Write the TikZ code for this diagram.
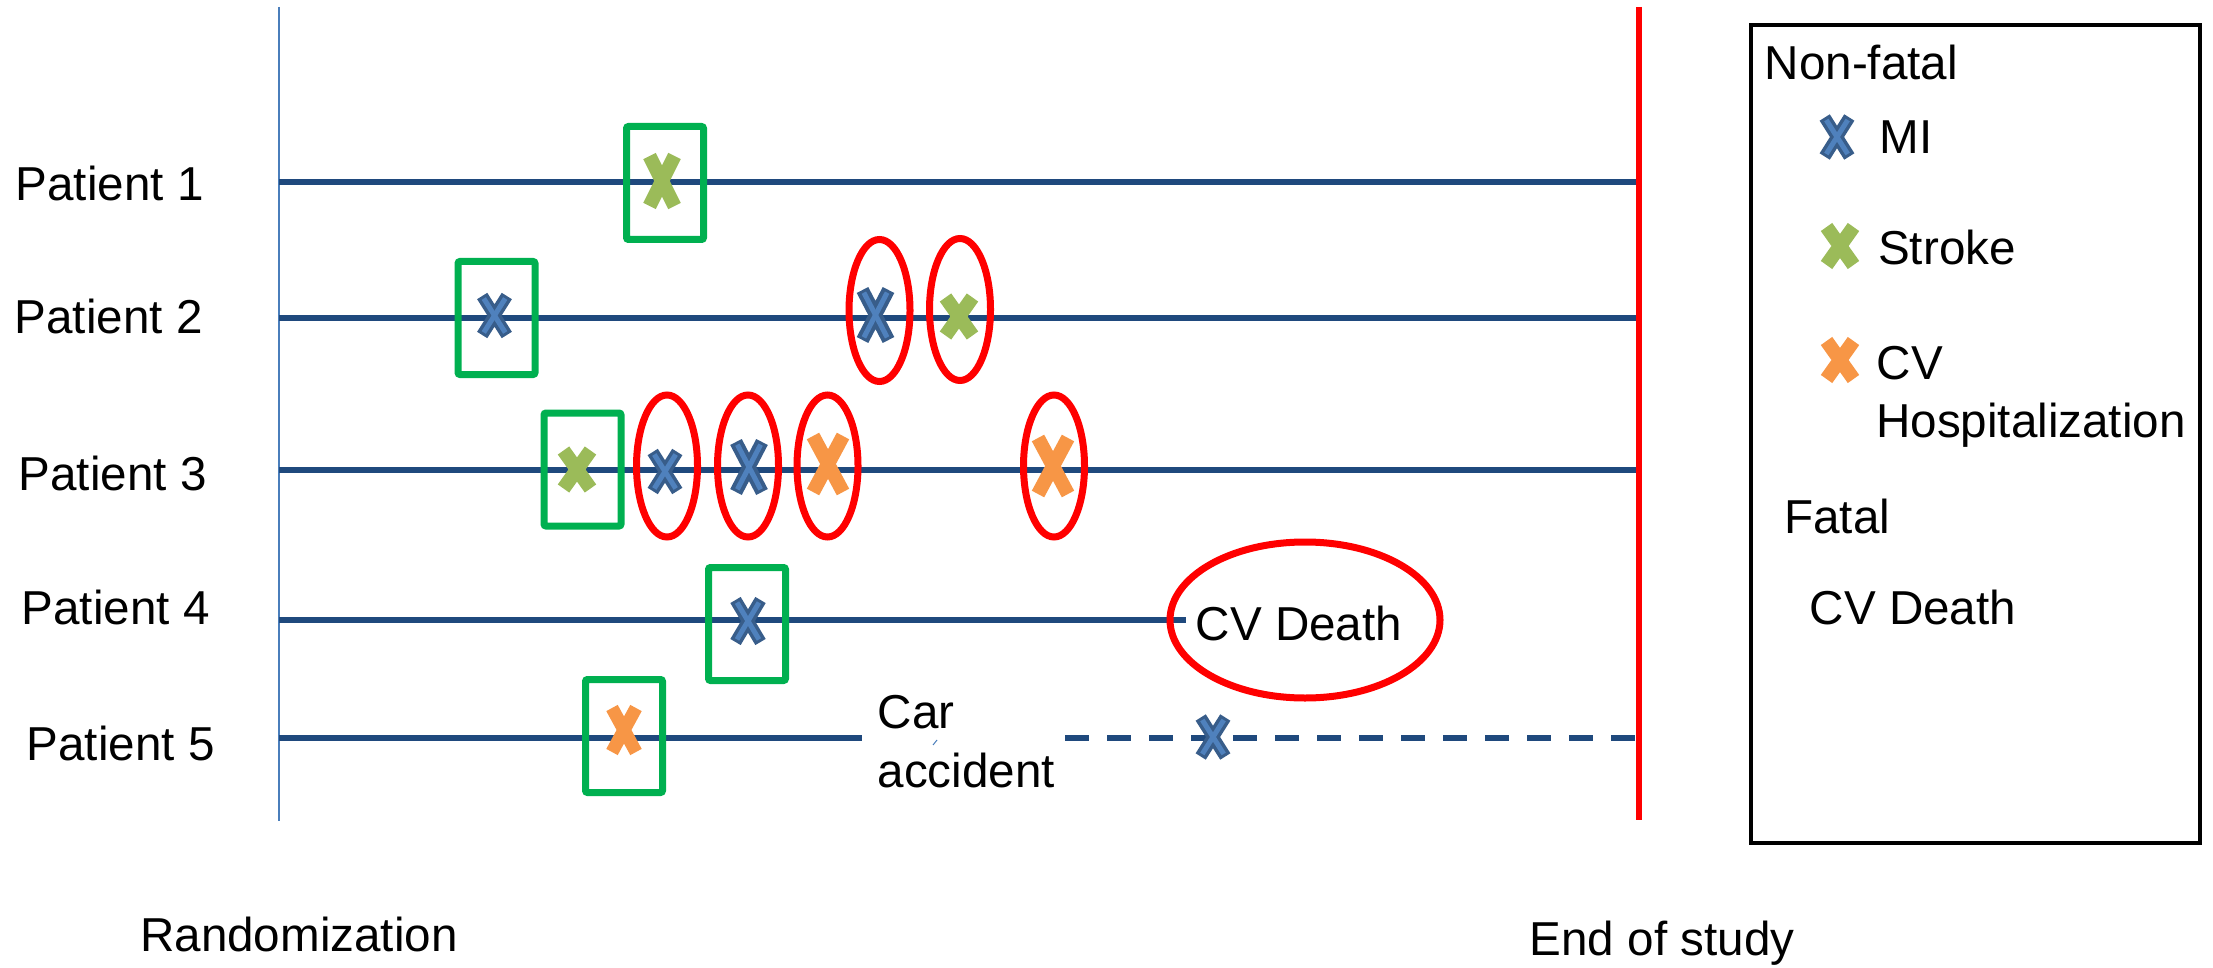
\documentclass[tikz,border=0pt]{standalone}
\usepackage{fontspec}
\setmainfont{Liberation Sans}
\usetikzlibrary{shapes.geometric}

\definecolor{tline}{HTML}{1F497D}
\definecolor{axisblue}{HTML}{4A7EBB}
\definecolor{boxgreen}{HTML}{00B050}
\definecolor{strokegreen}{HTML}{9BBB59}
\definecolor{cvorange}{HTML}{F79646}
\definecolor{mifill}{HTML}{4F81BD}
\definecolor{miedge}{HTML}{385D8A}
\definecolor{endred}{HTML}{FF0000}

% plain cross: x, y, half-width, half-height, thickness, colour
\newcommand{\evtcross}[6]{%
  \begin{scope}[shift={(#1,#2)}]
    \draw[line width=#5, color=#6] (-#3,-#4) -- (#3,#4) (-#3,#4) -- (#3,-#4);
  \end{scope}}
% MI cross: dark outline with a lighter core
\newcommand{\evtmi}[5]{%
  \begin{scope}[shift={(#1,#2)}]
    \draw[line width=#5, color=miedge] (-#3,-#4) -- (#3,#4) (-#3,#4) -- (#3,-#4);
    \draw[line width=5, color=mifill, shorten >=3, shorten <=3] (-#3,-#4) -- (#3,#4);
    \draw[line width=5, color=mifill, shorten >=3, shorten <=3] (-#3,#4) -- (#3,-#4);
  \end{scope}}

\begin{document}
\begin{tikzpicture}[x=1pt, y=-1pt,
  lbl/.style={inner sep=0, anchor=base west, font=\fontsize{47.6}{57}\selectfont},
  timeline/.style={line width=5.5, color=tline},
  firstevt/.style={draw=boxgreen, line width=7, rounded corners=2, minimum width=77, minimum height=113, inner sep=0},
  repeatevt/.style={ellipse, draw=endred, line width=7, minimum width=61, minimum height=142, inner sep=0},
]
\useasboundingbox (0,0) rectangle (2213,968);

% axis ends
\coordinate (rtop) at (279,7);
\coordinate (rbot) at (279,821);
\coordinate (etop) at (1639,7);
\coordinate (ebot) at (1639,820);
\draw[line width=2, color=axisblue] (rtop) -- (rbot);

% patient timelines
\coordinate (s1) at (279,182);  \coordinate (e1) at (1639,182);
\coordinate (s2) at (279,318);  \coordinate (e2) at (1639,318);
\coordinate (s3) at (279,470);  \coordinate (e3) at (1639,470);
\coordinate (s4) at (279,620);  \coordinate (e4) at (1186,620);
\coordinate (s5) at (279,738);  \coordinate (c5a) at (862,738);
\coordinate (c5b) at (1065,738); \coordinate (e5) at (1635,738);
\draw[timeline] (s1) -- (e1);
\draw[timeline] (s2) -- (e2);
\draw[timeline] (s3) -- (e3);
\draw[timeline] (s4) -- (e4);
\draw[timeline] (s5) -- (c5a);
\draw[timeline, dash pattern=on 24 off 18] (c5b) -- (e5);

% end of study
\draw[line width=6, color=endred] (etop) -- (ebot);

% patient labels
\node[lbl] (p1) at (15.5,201) {Patient 1};
\node[lbl] (p2) at (14.5,333) {Patient 2};
\node[lbl] (p3) at (18.5,490) {Patient 3};
\node[lbl] (p4) at (21.5,624) {Patient 4};
\node[lbl] (p5) at (26.5,760) {Patient 5};

% first events (green boxes)
\node[firstevt] (f1) at (665,183) {};
\node[firstevt] (f2) at (496.5,318) {};
\node[firstevt] (f3) at (582.5,469.5) {};
\node[firstevt] (f4) at (747,624) {};
\node[firstevt] (f5) at (624,736) {};

% recurrent events (red ellipses)
\node[repeatevt] (r21) at (879.5,310.5) {};
\node[repeatevt] (r22) at (960,309.5) {};
\node[repeatevt] (r31) at (667,466) {};
\node[repeatevt] (r32) at (748,466) {};
\node[repeatevt] (r33) at (827.5,466) {};
\node[repeatevt] (r34) at (1054,466) {};

% fatal event
\node[ellipse, draw=endred, line width=7, minimum width=270, minimum height=156, inner sep=0] (death) at (1305,620) {};
\node[lbl] (deathtxt) at (1195.5,640) {CV Death};

% event crosses
\evtcross{662}{181}{12.5}{25}{14}{strokegreen}
\evtmi{494.5}{315.5}{12.3}{19.5}{12}
\evtmi{875.5}{315}{13}{25}{13}
\evtcross{959}{316.5}{13.5}{19}{14}{strokegreen}
\evtcross{577}{469.5}{13.5}{19}{14}{strokegreen}
\evtmi{665}{471.5}{12.3}{19.5}{12}
\evtmi{749}{467}{13}{25}{13}
\evtcross{828}{464}{15}{28}{14}{cvorange}
\evtcross{1053}{466}{15}{28}{14}{cvorange}
\evtmi{748}{621}{12.5}{21}{12}
\evtcross{624}{730}{12}{22}{13}{cvorange}
\evtmi{1213}{737}{12.3}{19.5}{12}

% non-CV death
\node[lbl] (car) at (877.5,728) {Car};
\node[lbl] (acc) at (877.5,787) {accident};
\coordinate (tka) at (933,745);
\coordinate (tkb) at (937,740);
\draw[line width=1, color=axisblue] (tka) -- (tkb);

% axis captions
\node[lbl] (rand) at (140,951) {Randomization};
\node[lbl] (eos) at (1529.5,955) {End of study};

% legend
\node[draw=black, line width=4, minimum width=449, minimum height=818, inner sep=0] (legend) at (1975.5,434) {};
\node[lbl] (lnf) at (1764.5,80) {Non-fatal};
\evtmi{1837}{137}{12.3}{19.5}{12}
\node[lbl] (lmi) at (1879.5,154) {MI};
\evtcross{1840}{246}{13.5}{19}{14}{strokegreen}
\node[lbl] (lst) at (1878,265) {Stroke};
\evtcross{1840}{360}{13.5}{19}{14}{cvorange}
\node[lbl] (lcv) at (1876.5,379) {CV};
\node[lbl] (lho) at (1876,437) {Hospitalization};
\node[lbl] (lfa) at (1784,533) {Fatal};
\node[lbl] (lcd) at (1809.5,624) {CV Death};
\end{tikzpicture}
\end{document}
